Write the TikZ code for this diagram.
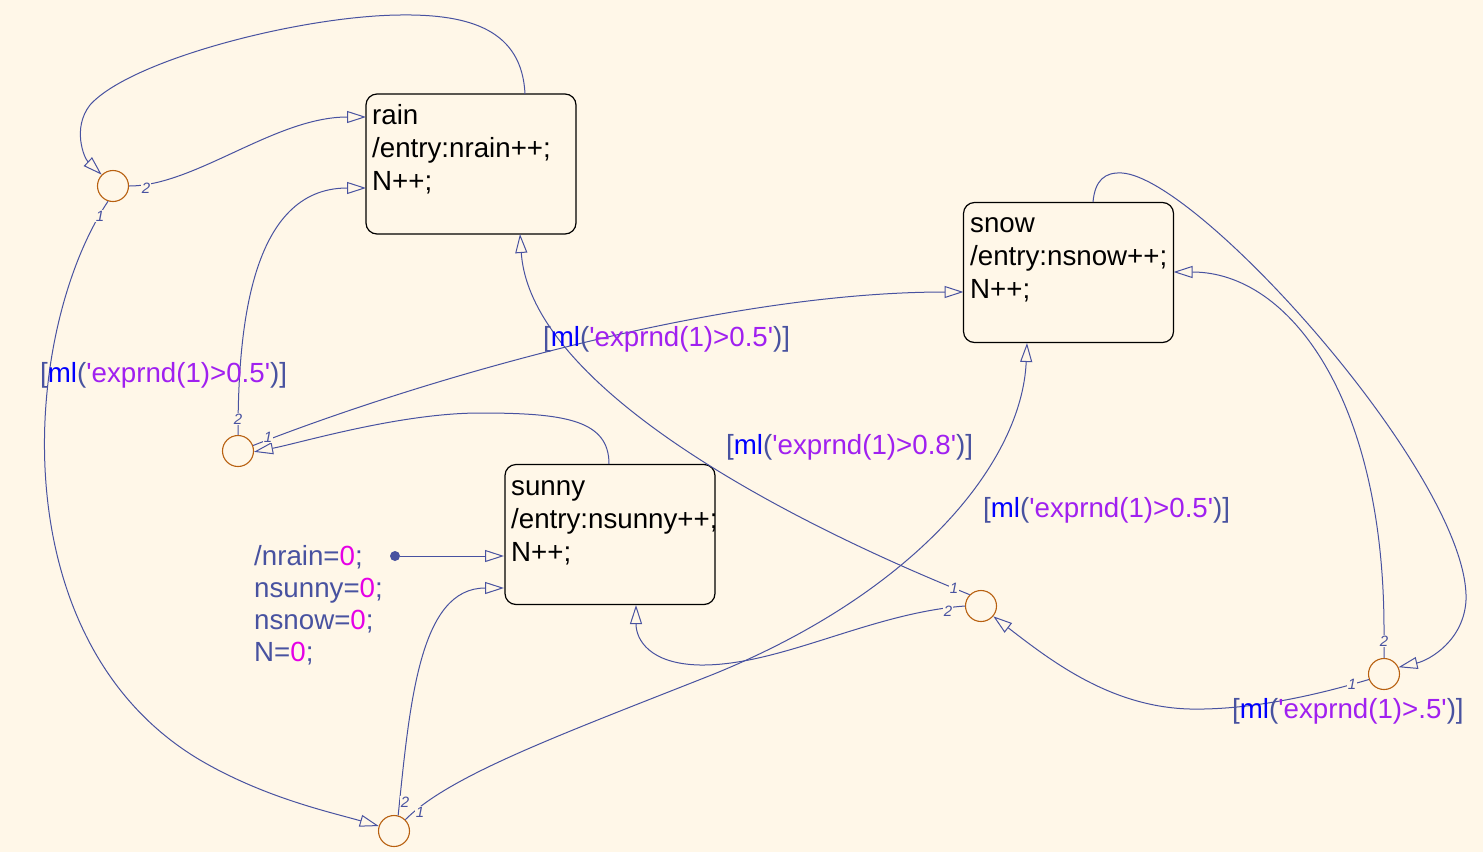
\documentclass[tikz,border=0pt]{standalone}
\usepackage{fontspec}
\setmainfont{Liberation Sans}
\usetikzlibrary{arrows.meta}
\definecolor{bg}{RGB}{255,247,232}
\definecolor{ln}{RGB}{72,82,160}
\definecolor{jc}{RGB}{184,96,16}
\definecolor{mlb}{RGB}{0,0,255}
\definecolor{strp}{RGB}{160,32,240}
\definecolor{numm}{RGB}{230,0,230}
\newcommand{\cond}[1]{{[}\textcolor{mlb}{ml}(\textcolor{strp}{\textquotesingle exprnd(1)>#1\textquotesingle})]}
\begin{document}
\begin{tikzpicture}[x=1pt,y=-1pt,
  state/.style={draw=black, line width=1.2pt, rounded corners=11pt, minimum width=210pt, minimum height=140pt, inner sep=0pt},
  stext/.style={anchor=base west, inner sep=0pt, font=\fontsize{27.7}{32}\selectfont, text=black},
  junc/.style={circle, draw=jc, line width=1.1pt, minimum size=31pt, inner sep=0pt},
  tr/.style={draw=ln, line width=1pt, -{Triangle[open, length=19pt, width=12pt]}},
  glabel/.style={anchor=base west, inner sep=0pt, font=\fontsize{27.7}{32}\selectfont, text=ln},
  num/.style={font=\fontsize{15}{15}\selectfont\itshape, text=ln, fill=bg, inner sep=0.6pt},
]
\fill[bg] (0,0) rectangle (1483,852);
\useasboundingbox (0,0) rectangle (1483,852);

% states
\node[state] (rain) at (471,164) {};
\node[state] (snow) at (1068.5,272.5) {};
\node[state] (sunny) at (610,534.5) {};
\node[stext] (rain1) at (372,124) {rain};
\node[stext] (rain2) at (372,157) {/entry:nrain++;};
\node[stext] (rain3) at (372,190) {N++;};
\node[stext] (snow1) at (970,232) {snow};
\node[stext] (snow2) at (970,265) {/entry:nsnow++;};
\node[stext] (snow3) at (970,298) {N++;};
\node[stext] (sunny1) at (511,495) {sunny};
\begin{scope}
\clip (504,464) rectangle (715.5,605);
\node[stext] (sunny2) at (511,528) {/entry:nsunny++;};
\end{scope}
\node[stext] (sunny3) at (511,561) {N++;};

% edge points on the states
\coordinate (rainT) at (525,94);
\coordinate (rainA) at (366,117);
\coordinate (rainB) at (366,188);
\coordinate (rainC) at (520,234);
\coordinate (snowL) at (963.5,292);
\coordinate (snowR) at (1173.5,272);
\coordinate (snowB) at (1027,343);
\coordinate (snowT) at (1093,202);
\coordinate (sunnyT) at (609,464);
\coordinate (sunnyA) at (504,556);
\coordinate (sunnyB) at (504,588);
\coordinate (sunnyC) at (636,605);

% junctions
\node[junc] (J1) at (113,186) {};
\node[junc] (J2) at (238,451) {};
\node[junc] (J3) at (981,606) {};
\node[junc] (J4) at (1384,674) {};
\node[junc] (J5) at (394,831) {};

% default transition
\node[circle, fill=ln, minimum size=10pt, inner sep=0pt] (init) at (395,556) {};
\draw[tr] (init) -- (sunnyA);
\node[glabel] (initA) at (254,565) {/nrain=\textcolor{numm}{0};};
\node[glabel] (initB) at (254,597) {nsunny=\textcolor{numm}{0};};
\node[glabel] (initC) at (254,629) {nsnow=\textcolor{numm}{0};};
\node[glabel] (initD) at (254,661) {N=\textcolor{numm}{0};};

% transitions
\draw[tr] (rainT) .. controls (522,30) and (470,14) .. (400,15) .. controls (300,16) and (130,60) .. (90,105) .. controls (72,128) and (84,158) .. (J1.135);
\draw[tr] (J1.east) .. controls (195,186) and (275,117) .. (rainA);
\draw[tr] (J2.north) .. controls (238,330) and (250,188) .. (rainB);
\draw[tr] (J1.-108) .. controls (22,330) and (-2,640) .. (200,760) .. controls (265,798) and (330,812) .. (J5.162);
\draw[tr] (J2.20) .. controls (420,380) and (720,292) .. (snowL);
\draw[tr] (sunnyT) .. controls (609,420) and (565,413) .. (480,413) .. controls (400,413) and (300,443) .. (J2.-3);
\draw[tr] (J5.75) .. controls (410,700) and (420,588) .. (sunnyB);
\draw[tr] (J5.45) .. controls (450,775) and (560,735) .. (714,674) .. controls (920,590) and (1022,460) .. (snowB);
\draw[tr] (J3.135) .. controls (760,510) and (530,380) .. (rainC);
\draw[tr] (J3.west) .. controls (870,613) and (780,666) .. (700,665) .. controls (650,664) and (636,640) .. (sunnyC);
\draw[tr] (J4.200) .. controls (1300,700) and (1240,710) .. (1190,709) .. controls (1110,707) and (1050,660) .. (J3.-40);
\draw[tr] (J4.north) -- (1384,630) .. controls (1384,400) and (1290,272) .. (snowR);
\draw[tr] (snowT) .. controls (1095,180) and (1105,172) .. (1122,173) .. controls (1200,178) and (1470,480) .. (1466,600) .. controls (1464,640) and (1430,660) .. (J4.25);

% junction port numbers
\node[num] (n12) at (146,188) {2};
\node[num] (n11) at (100,216) {1};
\node[num] (n22) at (238,419) {2};
\node[num] (n21) at (268,437) {1};
\node[num] (n31) at (954,588) {1};
\node[num] (n32) at (948,611) {2};
\node[num] (n42) at (1384,641) {2};
\node[num] (n41) at (1352,684) {1};
\node[num] (n52) at (405,802) {2};
\node[num] (n51) at (420,812) {1};

% conditions
\node[glabel] (c1) at (40,382) {\cond{0.5}};
\node[glabel] (c2) at (543,346) {\cond{0.5}};
\node[glabel] (c3) at (726,454) {\cond{0.8}};
\node[glabel] (c4) at (983,517) {\cond{0.5}};
\node[glabel] (c5) at (1232,718) {\cond{.5}};
\end{tikzpicture}
\end{document}
